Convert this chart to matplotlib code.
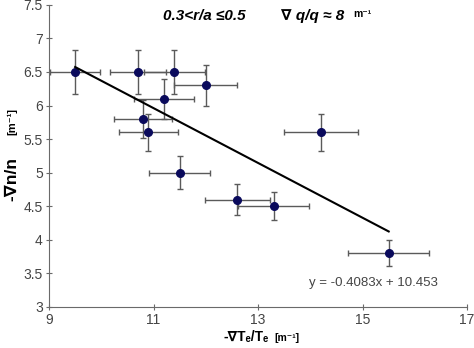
import numpy as np
import matplotlib
matplotlib.use('Agg')
import matplotlib.pyplot as plt

plt.rcParams['font.family'] = ['Liberation Sans', 'DejaVu Sans']

# 数据：-gradTe/Te, -gradn/n 以及误差
grad_te = [9.5, 10.7, 11.4, 12.0, 11.2, 10.8, 10.9, 11.5, 14.2, 12.6, 13.3, 15.5]
grad_n = [6.5, 6.5, 6.5, 6.3, 6.1, 5.8, 5.6, 5.0, 5.6, 4.6, 4.5, 3.8]
xerr = [0.48, 0.53, 0.58, 0.6, 0.57, 0.55, 0.56, 0.58, 0.71, 0.62, 0.68, 0.78]
yerr = [0.33, 0.33, 0.33, 0.3, 0.3, 0.29, 0.28, 0.25, 0.28, 0.23, 0.21, 0.19]

# 线性拟合 y = -0.4083x + 10.453
slope = -0.4083
intercept = 10.453
fit_x = [min(grad_te), max(grad_te)]

fig = plt.figure(figsize=(4.74, 3.48), dpi=100)
ax = fig.add_axes([0.1034, 0.118, 0.882, 0.868])

ax.errorbar(grad_te, grad_n, xerr=xerr, yerr=yerr, fmt='none', ecolor='#5a5a5a',
            elinewidth=1.0, capsize=2.5, capthick=1.0, zorder=2)
ax.plot(grad_te, grad_n, 'o', color='#0a0a5c', markersize=5.5, zorder=3)
fx = np.array(fit_x)
ax.plot(fx, slope * fx + intercept, color='black', linewidth=1.5, zorder=4)

ax.set_xlim(9, 17)
ax.set_ylim(3, 7.5)
ax.set_xticks([9, 11, 13, 15, 17])
ax.set_yticks(np.arange(3, 7.51, 0.5))
ax.set_yticklabels(['3', '3.5', '4', '4.5', '5', '5.5', '6', '6.5', '7', '7.5'])
ax.spines['top'].set_visible(False)
ax.spines['right'].set_visible(False)
for s in ['left', 'bottom']:
    ax.spines[s].set_color('#6a6a6a')
ax.tick_params(direction='inout', length=5, width=0.8, color='#6a6a6a',
               labelsize=10, labelcolor='#444444', pad=2)

ax.text(15.2, 3.35, 'y = -0.4083x + 10.453', fontsize=9.5, color='#444444', ha='center', va='center')

# 顶部说明
fig.text(0.43, 0.955, '0.3<r/a \u22640.5', fontsize=11, fontweight='bold', style='italic', ha='center', va='center')
fig.text(0.66, 0.955, '\u2207 q/q \u2248 8', fontsize=11, fontweight='bold', style='italic', ha='center', va='center')
fig.text(0.765, 0.96, 'm\u207b\u00b9', fontsize=7.5, fontweight='bold', ha='center', va='center')

# 坐标轴标签
fig.text(0.025, 0.485, '-\u2207n/n', fontsize=12.5, fontweight='bold', rotation=90, ha='center', va='center')
fig.text(0.025, 0.65, '[m\u207b\u00b9]', fontsize=8, fontweight='bold', rotation=90, ha='center', va='center')
fig.text(0.52, 0.032, '-\u2207T\u2091/T\u2091', fontsize=10, fontweight='bold', ha='center', va='center')
fig.text(0.605, 0.03, '[m\u207b\u00b9]', fontsize=7.5, fontweight='bold', ha='center', va='center')

plt.savefig('out.png', dpi=100)
